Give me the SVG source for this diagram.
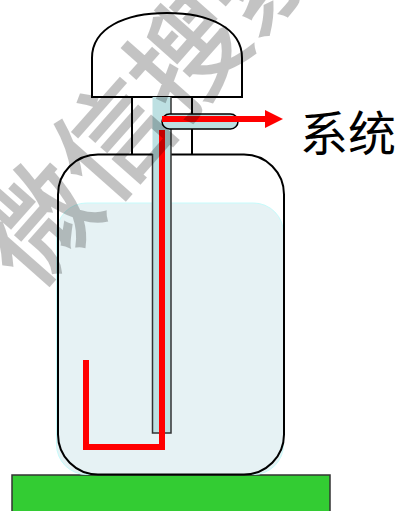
<svg xmlns="http://www.w3.org/2000/svg" width="402" height="511" viewBox="0 0 402 511">
  <defs>
    <style>
      .outline { stroke: #000; stroke-width: 2; }
      .pipe { fill: #bde0e2; }
      .flow { fill: none; stroke: #ff0000; stroke-width: 6; stroke-linecap: butt; stroke-linejoin: miter; }
      .label { font-family: "Noto Sans CJK SC", "Noto Sans", sans-serif; font-size: 48px; fill: #000; }
      .mark { font-family: "Noto Sans CJK SC", sans-serif; font-size: 112px; font-weight: normal; fill: #000; stroke: #000; stroke-width: 2.5; stroke-linejoin: miter; }
    </style>
  </defs>

  <rect width="402" height="511" fill="#fff"/>

  <!-- base plate -->
  <g id="base">
    <rect x="12" y="475" width="318" height="42" fill="#33cc33" stroke="#333" stroke-width="1.5"/>
  </g>

  <!-- liquid inside the bottle -->
  <g id="water">
    <rect x="56.5" y="203" width="227" height="271.5" rx="30" fill="#e6f2f4" stroke="#c6fbfb" stroke-width="1"/>
  </g>

  <!-- bottle body -->
  <g id="bottle">
    <rect x="58" y="154.5" width="226" height="320" rx="40" fill="none" class="outline"/>
  </g>

  <!-- cap with its two supports -->
  <g id="cap">
    <line x1="132" y1="97" x2="132" y2="154" class="outline"/>
    <line x1="192" y1="97" x2="192" y2="154" class="outline"/>
    <path d="M92,97 V58 C92,28 125,13 167,13 C209,13 242,28 242,58 V97 Z" fill="#fff" class="outline"/>
  </g>

  <!-- dip tube and outlet branch -->
  <g id="tube">
    <rect x="152.5" y="97" width="18.5" height="336" class="pipe"/>
    <path d="M152.5,154 V433 H171 V97" fill="none" stroke="#333" stroke-width="1.5"/>
    <rect x="162" y="114" width="76" height="15" rx="7.5" class="pipe" stroke="#000" stroke-width="1.5"/>
  </g>

  <!-- gas flow path -->
  <g id="connectors">
    <line x1="162" y1="119" x2="265" y2="119" class="flow"/>
    <path d="M265,110 L283,119 L265,128 Z" fill="#ff0000"/>
    <polyline points="162,130 162,447 86,447 86,360" class="flow"/>
  </g>

  <!-- outlet label -->
  <g id="label">
    <text x="300" y="151" class="label">系统</text>
  </g>

  <!-- watermark, translucent as a whole so stroke and fill do not stack -->
  <g id="watermark" opacity="0.23">
    <text transform="translate(32,292) rotate(-48.5)" class="mark">微信搜索</text>
  </g>
</svg>
